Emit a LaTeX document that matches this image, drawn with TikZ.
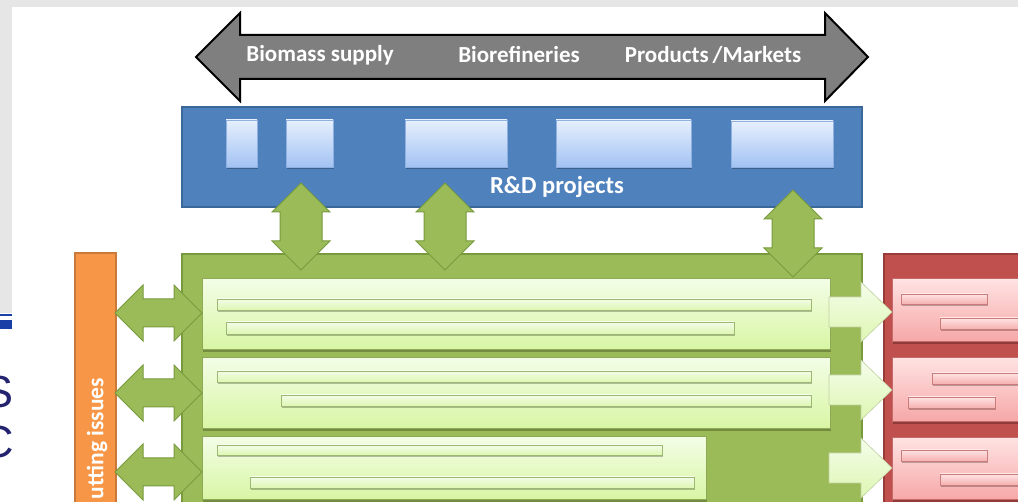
\documentclass[tikz,border=0pt]{standalone}
\usepackage{fontspec}
\setmainfont{Carlito}
\newfontfamily\slidefont{Liberation Sans}
\usetikzlibrary{fit}

\definecolor{framegray}{HTML}{E6E6E6}
\definecolor{arrowgray}{HTML}{7F7F7F}
\definecolor{rdblue}{HTML}{4F81BD}
\definecolor{rdblueline}{HTML}{3A6898}
\definecolor{boxtop}{HTML}{E6F0FD}
\definecolor{boxbot}{HTML}{A3C2F3}
\definecolor{boxline}{HTML}{8FB0E0}
\definecolor{leafgreen}{HTML}{9BBB59}
\definecolor{leafline}{HTML}{779A3C}
\definecolor{limetop}{HTML}{F3FDE6}
\definecolor{limebot}{HTML}{D8F6A4}
\definecolor{limeline}{HTML}{8DAA55}
\definecolor{striptop}{HTML}{F4FDE8}
\definecolor{stripbot}{HTML}{DDF6B2}
\definecolor{stripline}{HTML}{9DB872}
\definecolor{crossorange}{HTML}{F79646}
\definecolor{crossline}{HTML}{C9793A}
\definecolor{outred}{HTML}{C0504D}
\definecolor{outredline}{HTML}{983C3A}
\definecolor{pinktop}{HTML}{FFE2E2}
\definecolor{pinkbot}{HTML}{F6A7A7}
\definecolor{pinkline}{HTML}{C46A68}
\definecolor{pstriptop}{HTML}{FFE4E4}
\definecolor{pstripbot}{HTML}{F5B0B0}
\definecolor{pstripline}{HTML}{C97C7A}
\definecolor{slideblue}{HTML}{1A3FA6}
\definecolor{slideink}{HTML}{23236F}

\tikzset{
  panelbox/.style={inner sep=0pt, outer sep=0pt, line width=1.2pt},
  rdpanel/.style={panelbox, fill=rdblue, draw=rdblueline},
  greenpanel/.style={panelbox, fill=leafgreen, draw=leafline},
  crosspanel/.style={panelbox, fill=crossorange, draw=crossline},
  redpanel/.style={panelbox, fill=outred, draw=outredline},
  dropshadow/.style={preaction={fill=black, opacity=.25, transform canvas={xshift=0.8pt, yshift=-1.8pt}}},
  projbox/.style={panelbox, line width=0.6pt, dropshadow, top color=boxtop, bottom color=boxbot, draw=boxline},
  limebar/.style={panelbox, line width=1pt, dropshadow, top color=limetop, bottom color=limebot, draw=limeline},
  limestrip/.style={panelbox, line width=0.7pt, dropshadow, top color=striptop, bottom color=stripbot, draw=stripline},
  pinkbar/.style={panelbox, line width=1pt, dropshadow, top color=pinktop, bottom color=pinkbot, draw=pinkline},
  pinkstrip/.style={panelbox, line width=0.7pt, dropshadow, top color=pstriptop, bottom color=pstripbot, draw=pstripline},
  grayarrow/.style={fill=arrowgray, draw=black, line width=2pt, line join=miter},
  greenarrow/.style={fill=leafgreen, draw=leafline, line width=1pt, line join=miter},
  limearrow/.style={top color=limetop!80!white, bottom color=stripbot, draw=limeline!55!white, line width=0.6pt, line join=miter},
  headlabel/.style={inner sep=0pt, text=white, font=\fontsize{23}{23}\selectfont\bfseries},
}

% rectangle node spanning two corners
\newcommand\panel[6]{\node[#2, fit={(#3,#4)(#5,#6)}] (#1) {};}

% vertical two-headed block arrow: centre x, top tip y, bottom tip y
\newcommand\vdarrow[3]{%
  \draw[greenarrow] (#1,#2) -- ({#1+29},{#2+29}) -- ({#1+21},{#2+29}) -- ({#1+21},{#3-29})
    -- ({#1+29},{#3-29}) -- (#1,#3) -- ({#1-29},{#3-29}) -- ({#1-21},{#3-29})
    -- ({#1-21},{#2+29}) -- ({#1-29},{#2+29}) -- cycle;}

% horizontal two-headed block arrow: left tip x, right tip x, centre y
\newcommand\hdarrow[3]{%
  \draw[greenarrow] (#1,#3) -- ({#1+28},{#3-28}) -- ({#1+28},{#3-14}) -- ({#2-28},{#3-14})
    -- ({#2-28},{#3-28}) -- (#2,#3) -- ({#2-28},{#3+28}) -- ({#2-28},{#3+14})
    -- ({#1+28},{#3+14}) -- ({#1+28},{#3+28}) -- cycle;}

% one-headed block arrow to the right: tail x, tip x, centre y
\newcommand\sarrow[3]{%
  \draw[limearrow] (#1,{#3-15}) -- ({#2-31},{#3-15}) -- ({#2-31},{#3-30}) -- (#2,#3)
    -- ({#2-31},{#3+30}) -- ({#2-31},{#3+15}) -- (#1,{#3+15}) -- cycle;}

\begin{document}
\begin{tikzpicture}[x=1pt, y=-1pt]
  \useasboundingbox (0,0) rectangle (1018,502);
  \clip (0,0) rectangle (1018,502);
  \fill[white] (0,0) rectangle (1018,502);

  % slide frame at the edges
  \fill[framegray] (0,0) rectangle (1018,7);
  \fill[framegray] (0,0) rectangle (12,313);
  \fill[slideblue] (0,314) rectangle (12,316.5);
  \fill[slideblue] (0,320) rectangle (12,329);
  \node[anchor=base east, inner sep=0pt, text=slideink, font=\slidefont\fontsize{45}{45}\selectfont] (edgeS) at (14,408) {S};
  \node[anchor=base east, inner sep=0pt, text=slideink, font=\slidefont\fontsize{45}{45}\selectfont] (edgeC) at (14.5,457.5) {C};

  % value chain arrow
  \draw[grayarrow] (196,57) -- (240,13) -- (240,35) -- (825,35) -- (825,13) -- (868,57)
    -- (825,101) -- (825,79) -- (240,79) -- (240,101) -- cycle;
  \node[headlabel] (supply) at (320,55) {Biomass supply};
  \node[headlabel] (refine) at (519,55) {Biorefineries};
  \node[headlabel] (market) at (713,55) {Products\,/Markets};

  % R&D projects
  \panel{rd}{rdpanel}{182}{107}{862}{207}
  \panel{p1}{projbox}{226}{120}{257}{167}
  \panel{p2}{projbox}{286}{120}{333}{167}
  \panel{p3}{projbox}{405}{120}{507}{167}
  \panel{p4}{projbox}{556}{120}{691}{167}
  \panel{p5}{projbox}{731}{121}{833}{167}
  \node[headlabel, font=\fontsize{24.5}{24.5}\selectfont\bfseries] (rdlabel) at (557,187) {R\&D projects};

  % main panels
  \panel{core}{greenpanel}{182}{254}{862}{515}
  \panel{cross}{crosspanel}{75}{253}{116}{515}
  \panel{out}{redpanel}{884}{254}{1035}{515}
  \node[rotate=90, anchor=east, headlabel, font=\fontsize{23.5}{23.5}\selectfont\bfseries] (crosslabel) at (97,378) {utting issues};

  % activity bars
  \panel{a1}{limebar}{202}{279}{830}{350}
  \panel{a2}{limebar}{202}{358}{830}{429}
  \panel{a3}{limebar}{202}{437}{706}{500}
  \panel{a1s1}{limestrip}{217}{299}{811}{310}
  \panel{a1s2}{limestrip}{226}{322}{734}{334}
  \panel{a2s1}{limestrip}{217}{371}{811}{382}
  \panel{a2s2}{limestrip}{281}{395}{811}{406}
  \panel{a3s1}{limestrip}{217}{445}{662}{455}
  \panel{a3s2}{limestrip}{250}{477}{694}{488}

  % output bars
  \panel{o1}{pinkbar}{892}{279}{1035}{342}
  \panel{o2}{pinkbar}{892}{358}{1035}{422}
  \panel{o3}{pinkbar}{892}{438}{1035}{500}
  \panel{o1s1}{pinkstrip}{901}{294}{987}{304}
  \panel{o1s2}{pinkstrip}{940}{318}{1035}{329}
  \panel{o2s1}{pinkstrip}{932}{373}{1035}{384}
  \panel{o2s2}{pinkstrip}{908}{397}{995}{408}
  \panel{o3s1}{pinkstrip}{901}{450}{987}{461}
  \panel{o3s2}{pinkstrip}{940}{474}{1035}{485}

  % links between R&D and the activities
  \vdarrow{301}{183}{270}
  \vdarrow{445}{183}{270}
  \vdarrow{793}{190}{277}

  % links to the cross-cutting column
  \hdarrow{115}{202}{313}
  \hdarrow{115}{202}{393}
  \hdarrow{115}{202}{472}

  % flows to the outputs
  \sarrow{829}{892}{312}
  \sarrow{829}{892}{390}
  \sarrow{829}{892}{468}
\end{tikzpicture}
\end{document}
